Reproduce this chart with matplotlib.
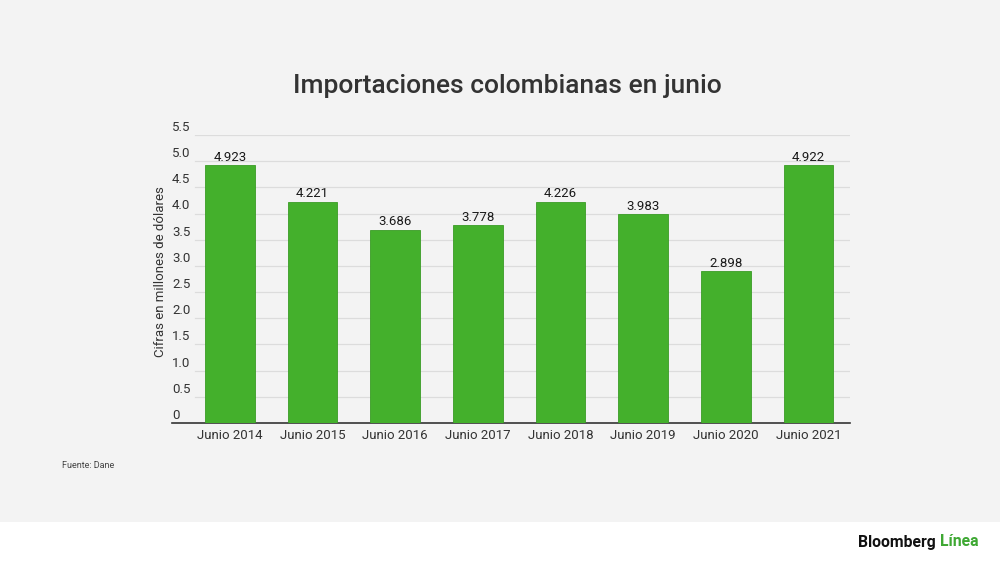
import numpy as np
import matplotlib.pyplot as plt
from matplotlib.transforms import blended_transform_factory

plt.rcParams['font.family'] = ['Roboto', 'DejaVu Sans']

categorias = ["Junio 2014", "Junio 2015", "Junio 2016", "Junio 2017",
              "Junio 2018", "Junio 2019", "Junio 2020", "Junio 2021"]
valores = [4.923, 4.221, 3.686, 3.778, 4.226, 3.983, 2.898, 4.922]
etiquetas = ["4.923", "4.221", "3.686", "3.778", "4.226", "3.983", "2.898", "4.922"]
yticks = [0, 0.5, 1.0, 1.5, 2.0, 2.5, 3.0, 3.5, 4.0, 4.5, 5.0, 5.5]
ytick_labels = ["0", "0.5", "1.0", "1.5", "2.0", "2.5", "3.0", "3.5", "4.0", "4.5", "5.0", "5.5"]

W, H = 1000, 562
fig = plt.figure(figsize=(W / 100, H / 100), dpi=100)
fig.patch.set_facecolor('white')

# fondo gris con franja blanca abajo
bg = fig.add_axes([0, (H - 522) / H, 1, 522 / H])
bg.set_facecolor('#f3f3f3')
bg.set_xticks([]); bg.set_yticks([])
for s in bg.spines.values():
    s.set_visible(False)
bg.set_zorder(-1)

x0, x1 = 172, 850
y0, ytop = 423, 135
ax = fig.add_axes([x0 / W, (H - y0) / H, (x1 - x0) / W, (y0 - ytop) / H])
ax.set_facecolor('none')
ax.set_xlim(-0.7, 7.5)
ax.set_ylim(0, 5.5)

x = np.arange(len(categorias))
ax.bar(x, valores, width=0.6, color='#44b02c', edgecolor='#3a9c25', linewidth=0.6, zorder=3)

# grid desde despues de las etiquetas
gx = (195 - x0) / (x1 - x0)
for t in yticks[1:]:
    ax.axhline(t, xmin=gx, xmax=1, color='#dcdcdc', linewidth=0.9, zorder=1)

tr = blended_transform_factory(ax.transAxes, ax.transData)
for t, lab in zip(yticks, ytick_labels):
    ax.text(0.0, t + 0.02, lab, transform=tr, ha='left', va='bottom',
            fontsize=9.5, color='#333333')

for xi, v, lab in zip(x, valores, etiquetas):
    ax.text(xi, v + 0.03, lab, ha='center', va='bottom', fontsize=9.5, color='#1a1a1a', zorder=4)

ax.set_xticks(x)
ax.set_xticklabels(categorias, fontsize=9.5, color='#333333')
ax.tick_params(axis='x', length=0, pad=4)
ax.set_yticks([])
for s in ['top', 'right', 'left']:
    ax.spines[s].set_visible(False)
ax.spines['bottom'].set_color('#333333')
ax.spines['bottom'].set_linewidth(1.2)

fig.text(160 / W, 1 - 272 / H, "Cifras en millones de dólares", rotation=90,
         ha='center', va='center', fontsize=9.5, color='#333333')

fig.text(507 / W, 1 - 86 / H, "Importaciones colombianas en junio", ha='center', va='center',
         fontsize=19, fontweight='medium', color='#333333')

fig.text(62 / W, 1 - 466 / H, "Fuente: Dane", ha='left', va='center', fontsize=6.5, color='#444444')

fig.text(940 / W, 1 - 542 / H, "Bloomberg ", ha='right', va='center', fontsize=11.3,
         fontweight='bold', color='#111111')
fig.text(940 / W, 1 - 542 / H, "Línea", ha='left', va='center', fontsize=11.3,
         fontweight='bold', color='#3ea833')

fig.savefig('out.png', dpi=100, facecolor=fig.get_facecolor())
